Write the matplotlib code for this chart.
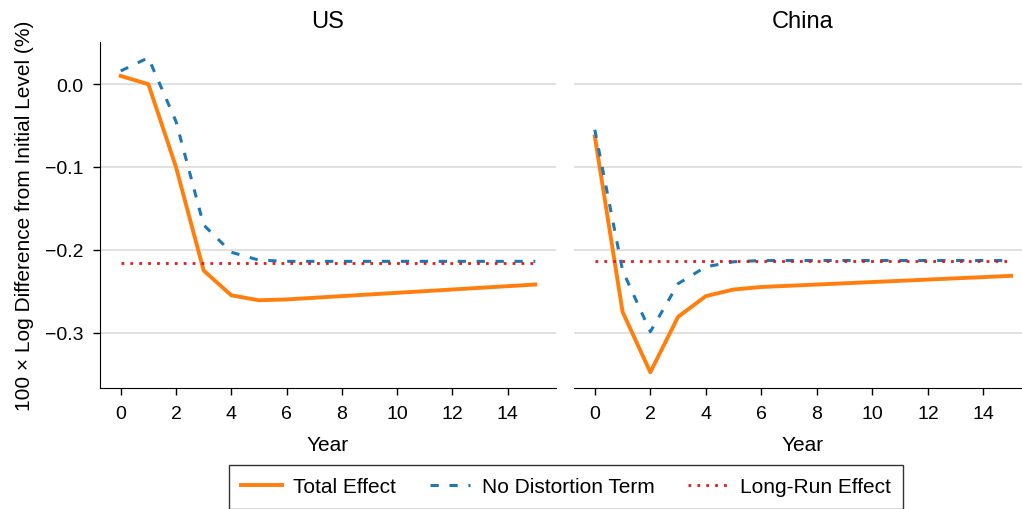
import matplotlib
matplotlib.use("Agg")
import matplotlib.pyplot as plt
import numpy as np

plt.rcParams['font.family'] = ['Liberation Sans', 'DejaVu Sans']

years = list(range(16))

us_total = [0.010, 0.000, -0.100, -0.225, -0.255, -0.261, -0.260, -0.258,
            -0.256, -0.254, -0.252, -0.250, -0.248, -0.246, -0.244, -0.242]
us_nodist = [0.016, 0.032, -0.045, -0.170, -0.203, -0.2125, -0.214, -0.214,
             -0.214, -0.214, -0.214, -0.214, -0.214, -0.214, -0.214, -0.214]
us_longrun = -0.2155

cn_total = [-0.063, -0.275, -0.348, -0.281, -0.256, -0.248, -0.245, -0.2435,
            -0.242, -0.2405, -0.239, -0.2375, -0.236, -0.2345, -0.233, -0.2315]
cn_nodist = [-0.055, -0.225, -0.299, -0.241, -0.2205, -0.2145, -0.213, -0.213,
             -0.213, -0.213, -0.213, -0.213, -0.213, -0.213, -0.213, -0.213]
cn_longrun = -0.2133

titles = ["US", "China"]
xticks = [0, 2, 4, 6, 8, 10, 12, 14]
yticks = [0.0, -0.1, -0.2, -0.3]
ytick_labels = ['0.0', '\u22120.1', '\u22120.2', '\u22120.3']

c_total = '#ff7f0e'
c_nodist = '#1f77b4'
c_lr = '#e31a1c'

fig = plt.figure(figsize=(10.22, 5.10), dpi=100)
W, H = 1022, 510
ax1 = fig.add_axes([100 / W, 1 - 389 / H, 456 / W, 346 / H])
ax2 = fig.add_axes([574 / W, 1 - 389 / H, 458 / W, 346 / H], sharey=ax1)

panels = [(ax1, us_total, us_nodist, us_longrun),
          (ax2, cn_total, cn_nodist, cn_longrun)]

for i, (ax, tot, nod, lr) in enumerate(panels):
    ax.plot(years, tot, color=c_total, lw=2.8, label='Total Effect', zorder=3)
    ax.plot(years, nod, color=c_nodist, lw=2.2, ls=(0, (2.7, 3.5)),
            label='No Distortion Term', zorder=4)
    ax.plot(years, [lr] * len(years), color=c_lr, lw=2.0, ls=(0, (1, 2.2)),
            label='Long-Run Effect', zorder=5)
    ax.set_title(titles[i], fontsize=17, pad=11)
    ax.set_xticks(xticks)
    ax.set_xticklabels([str(t) for t in xticks])
    ax.set_xlabel('Year', fontsize=15, labelpad=9)
    ax.grid(axis='y', color='#dedede', lw=1.3, zorder=0)
    ax.set_axisbelow(True)
    for s in ['top', 'right']:
        ax.spines[s].set_visible(False)
    ax.tick_params(axis='both', labelsize=14, direction='out', length=5,
                   width=1, pad=7.5)
    ax.margins(x=0.05, y=0.05)

ax1.set_yticks(yticks)
ax1.set_yticklabels(ytick_labels)
ax1.tick_params(axis='y', pad=7)
ax1.set_ylabel('100 \u00d7 Log Difference from Initial Level (%)', fontsize=15, labelpad=8)
ax2.spines['left'].set_visible(False)
ax2.tick_params(axis='y', left=False, labelleft=False)

handles, labels = ax1.get_legend_handles_labels()
leg = fig.legend(handles, labels, loc='upper center', ncol=3,
                 bbox_to_anchor=(566 / W, 1 - 466 / H), fontsize=15,
                 frameon=True, fancybox=False, edgecolor='black',
                 handlelength=1.95, handletextpad=0.55, columnspacing=1.6,
                 borderpad=0.6, borderaxespad=0)
leg.get_frame().set_linewidth(1.0)

fig.savefig('out.png', dpi=100)
